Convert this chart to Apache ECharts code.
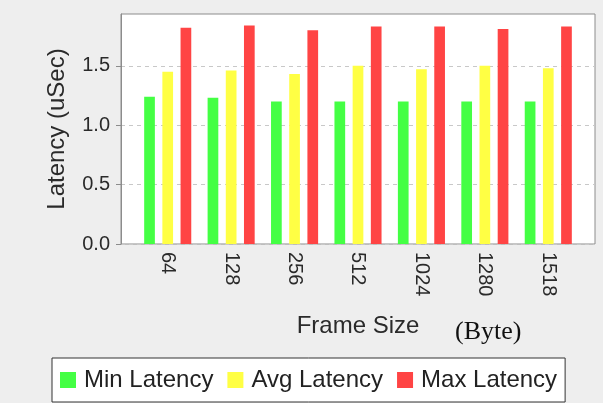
<!DOCTYPE html>
<html>
<head>
<meta charset="utf-8">
<script src="https://cdn.jsdelivr.net/npm/echarts@6/dist/echarts.min.js"></script>
<style>
html,body{margin:0;padding:0;background:#eeeeee;}
#c{width:603px;height:403px;}
</style>
</head>
<body>
<div id="c"></div>
<script>
const frameSizes = ['64', '128', '256', '512', '1024', '1280', '1518'];
const minLatency = [1.24, 1.23, 1.20, 1.20, 1.20, 1.20, 1.20];
const avgLatency = [1.45, 1.46, 1.43, 1.50, 1.47, 1.50, 1.48];
const maxLatency = [1.82, 1.84, 1.80, 1.83, 1.83, 1.81, 1.83];
const yTicks = [0, 0.5, 1.0, 1.5];
const seriesNames = ['Min Latency', 'Avg Latency', 'Max Latency'];
const seriesColors = ['#44ff44', '#ffff44', '#ff4444'];

const FONT = "'Liberation Sans', Arial, sans-serif";
const YMAX = 1.936;

const chart = echarts.init(document.getElementById('c'), null, {renderer: 'canvas'});
const seriesData = [minLatency, avgLatency, maxLatency];

chart.setOption({
  animation: false,
  backgroundColor: '#eeeeee',
  textStyle: {fontFamily: FONT},
  grid: [
    {left: 121, top: 14, width: 474, height: 230, show: true, backgroundColor: '#ffffff',
     borderColor: '#8c8c8c', borderWidth: 1, containLabel: false},
    {left: 136, top: 14, width: 444, height: 230, containLabel: false}
  ],
  xAxis: [
    {gridIndex: 0, type: 'value', min: 0, max: 1, show: false},
    {gridIndex: 1, type: 'category', data: frameSizes,
     axisLine: {show: false}, axisTick: {show: false},
     axisLabel: {rotate: -90, fontSize: 20, margin: 8, color: '#2a2a2a', fontFamily: FONT},
     name: 'Frame Size', nameLocation: 'middle', nameGap: 70,
     nameTextStyle: {fontSize: 24, color: '#2a2a2a', fontFamily: FONT}}
  ],
  yAxis: [
    {gridIndex: 0, type: 'value', min: 0, max: YMAX, interval: 0.5,
     axisLine: {show: true, lineStyle: {color: '#8c8c8c'}},
     axisTick: {show: true, length: 5, lineStyle: {color: '#8c8c8c'}, customValues: yTicks},
     axisLabel: {fontSize: 20, color: '#2a2a2a', margin: 11, fontFamily: FONT,
                 customValues: yTicks, formatter: v => v.toFixed(1)},
     splitLine: {show: true, lineStyle: {color: '#c8c8c8', type: [4, 4], width: 1}},
     name: 'Latency (uSec)', nameLocation: 'middle', nameGap: 52,
     nameTextStyle: {fontSize: 24, color: '#2a2a2a', fontFamily: FONT}},
    {gridIndex: 1, type: 'value', min: 0, max: YMAX, show: false}
  ],
  legend: {
    data: seriesNames,
    left: 52, top: 358,
    icon: 'rect', itemWidth: 16, itemHeight: 16, itemGap: 14,
    backgroundColor: '#ffffff', borderColor: '#333', borderWidth: 1,
    padding: [10, 8, 10, 8],
    textStyle: {fontSize: 24, color: '#222', fontFamily: FONT, padding: [0, 0, 0, 3]}
  },
  graphic: [
    {type: 'text', left: 455, top: 319,
     style: {text: '(Byte)', font: "26px 'Liberation Serif', 'Times New Roman', serif", fill: '#111'}}
  ],
  series: seriesNames.map((name, i) => ({
    name: name, type: 'bar', xAxisIndex: 1, yAxisIndex: 1,
    data: seriesData[i], barWidth: 10.7, barGap: '70%',
    itemStyle: {color: seriesColors[i]}
  }))
});
</script>
</body>
</html>
